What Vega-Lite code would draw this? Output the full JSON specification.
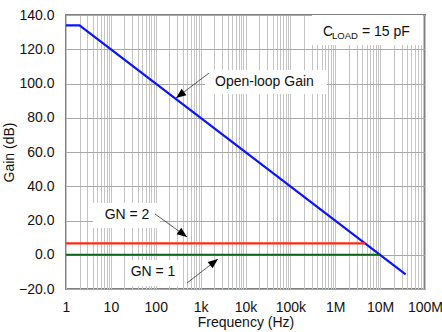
{
  "$schema": "https://vega.github.io/schema/vega-lite/v6.json",
  "width": 359,
  "height": 274,
  "autosize": {"type": "none"},
  "padding": {"left": 66, "top": 15, "right": 17, "bottom": 43},
  "background": "white",
  "config": {
    "font": "Liberation Sans",
    "view": {"stroke": "#808080", "strokeWidth": 2}
  },
  "datasets": {
    "curves": [
      {"series": "Open-loop Gain", "f": 1, "gain": 134},
      {"series": "Open-loop Gain", "f": 2, "gain": 134},
      {"series": "Open-loop Gain", "f": 37000000, "gain": -11.4},
      {"series": "GN = 2", "f": 1, "gain": 6.7},
      {"series": "GN = 2", "f": 4600000, "gain": 6.7},
      {"series": "GN = 1", "f": 1, "gain": 0},
      {"series": "GN = 1", "f": 9600000, "gain": 0}
    ],
    "boxes": [
      {"name": "Open-loop Gain", "f1": 1251, "f2": 655000, "g1": 93.9, "g2": 107.9},
      {"name": "GN = 2", "f1": 4, "f2": 124, "g1": 15.6, "g2": 30.2},
      {"name": "GN = 1", "f1": 20.6, "f2": 384, "g1": -18.2, "g2": -3.1},
      {"name": "CLOAD", "f1": 303000, "f2": 90000000, "g1": 122.5, "g2": 140}
    ],
    "arrows": [
      {"name": "Open-loop Gain", "f1": 1538, "g1": 106.1, "f2": 283, "g2": 91.5},
      {"name": "GN = 2", "f1": 96, "g1": 23.8, "f2": 497, "g2": 10.4},
      {"name": "GN = 1", "f1": 497, "g1": -16.5, "f2": 2438, "g2": -2.5}
    ],
    "labels": [
      {"text": "Open-loop Gain", "f": 2090, "gain": 101.0},
      {"text": "C", "f": 533000, "gain": 130.2},
      {"text": "= 15 pF", "f": 3940000, "gain": 130.2}
    ],
    "clabels": [
      {"text": "GN = 2", "f": 22.9, "gain": 23.2},
      {"text": "GN = 1", "f": 86.9, "gain": -10.1}
    ],
    "sub": [
      {"text": "LOAD", "f": 847000, "gain": 127.7}
    ]
  },
  "layer": [
    {
      "data": {"name": "boxes"},
      "mark": {"type": "rect", "color": "white"},
      "encoding": {
        "x": {"field": "f1", "type": "quantitative", "scale": {"type": "log", "domain": [1, 100000000], "nice": false},
          "title": "Frequency (Hz)",
          "axis": {
            "values": [1,2,3,4,5,6,7,8,9,10,20,30,40,50,60,70,80,90,100,200,300,400,500,600,700,800,900,1000,2000,3000,4000,5000,6000,7000,8000,9000,10000,20000,30000,40000,50000,60000,70000,80000,90000,100000,200000,300000,400000,500000,600000,700000,800000,900000,1000000,2000000,3000000,4000000,5000000,6000000,7000000,8000000,9000000,10000000,20000000,30000000,40000000,50000000,60000000,70000000,80000000,90000000,100000000],
            "tickCount": 200,
            "labelExpr": "datum.value == 1 ? '1' : datum.value == 10 ? '10' : datum.value == 100 ? '100' : datum.value == 1000 ? '1k' : datum.value == 10000 ? '10k' : datum.value == 100000 ? '100k' : datum.value == 1000000 ? '1M' : datum.value == 10000000 ? '10M' : datum.value == 100000000 ? '100M' : ''",
            "labelOverlap": false, "labelBound": false, "labelFlush": false,
            "labelFont": "Liberation Sans", "labelFontSize": 14, "labelColor": "#111",
            "titleFont": "Liberation Sans", "titleFontSize": 14, "titleFontWeight": "normal", "titleColor": "#111",
            "grid": true, "gridColor": "#c4c4c4", "gridWidth": 1,
            "ticks": false, "domain": false, "labelPadding": 11, "titlePadding": 1
          }},
        "x2": {"field": "f2"},
        "y": {"field": "g1", "type": "quantitative", "scale": {"domain": [-20, 140], "nice": false},
          "title": "Gain (dB)",
          "axis": {"values": [-20, 0, 20, 40, 60, 80, 100, 120, 140], "tickCount": 20, "format": ".1f",
            "labelOverlap": false, "labelBound": false, "labelFlush": false,
            "labelFont": "Liberation Sans", "labelFontSize": 14, "labelColor": "#111",
            "titleFont": "Liberation Sans", "titleFontSize": 14, "titleFontWeight": "normal", "titleColor": "#111",
            "grid": true, "gridColor": "#a8a8a8", "gridWidth": 1, "ticks": false, "domain": false, "labelPadding": 12, "titlePadding": 2}},
        "y2": {"field": "g2"}
      }
    },
    {
      "data": {"name": "curves"},
      "mark": {"type": "line", "strokeWidth": 2.2},
      "encoding": {
        "x": {"field": "f", "type": "quantitative"},
        "y": {"field": "gain", "type": "quantitative"},
        "color": {"field": "series", "type": "nominal", "scale": {"domain": ["Open-loop Gain", "GN = 2", "GN = 1"], "range": ["#0a14ff", "#ff2a10", "#10641a"]}, "legend": null}
      }
    },
    {
      "mark": {"type": "rule", "color": "#111", "strokeWidth": 2},
      "encoding": {"y": {"datum": 140, "type": "quantitative"}}
    },
    {
      "data": {"name": "arrows"},
      "mark": {"type": "rule", "color": "#333", "strokeWidth": 0.8},
      "encoding": {
        "x": {"field": "f1", "type": "quantitative"},
        "y": {"field": "g1", "type": "quantitative"},
        "x2": {"field": "f2"},
        "y2": {"field": "g2"}
      }
    },
    {
      "data": {"name": "arrows"},
      "transform": [{"filter": "datum.name == 'Open-loop Gain'"}],
      "mark": {"type": "point", "shape": "M0,0L-2,-0.8L-2,0.8Z", "filled": true, "color": "black", "opacity": 1, "size": 100, "angle": 143},
      "encoding": {"x": {"field": "f2", "type": "quantitative"}, "y": {"field": "g2", "type": "quantitative"}}
    },
    {
      "data": {"name": "arrows"},
      "transform": [{"filter": "datum.name == 'GN = 2'"}],
      "mark": {"type": "point", "shape": "M0,0L-2,-0.8L-2,0.8Z", "filled": true, "color": "black", "opacity": 1, "size": 100, "angle": 36},
      "encoding": {"x": {"field": "f2", "type": "quantitative"}, "y": {"field": "g2", "type": "quantitative"}}
    },
    {
      "data": {"name": "arrows"},
      "transform": [{"filter": "datum.name == 'GN = 1'"}],
      "mark": {"type": "point", "shape": "M0,0L-2,-0.8L-2,0.8Z", "filled": true, "color": "black", "opacity": 1, "size": 100, "angle": 322},
      "encoding": {"x": {"field": "f2", "type": "quantitative"}, "y": {"field": "g2", "type": "quantitative"}}
    },
    {
      "data": {"name": "labels"},
      "mark": {"type": "text", "align": "left", "baseline": "middle", "fontSize": 14, "color": "#111"},
      "encoding": {"x": {"field": "f", "type": "quantitative"}, "y": {"field": "gain", "type": "quantitative"}, "text": {"field": "text"}}
    },
    {
      "data": {"name": "clabels"},
      "mark": {"type": "text", "align": "center", "baseline": "middle", "fontSize": 14, "color": "#111"},
      "encoding": {"x": {"field": "f", "type": "quantitative"}, "y": {"field": "gain", "type": "quantitative"}, "text": {"field": "text"}}
    },
    {
      "data": {"name": "sub"},
      "mark": {"type": "text", "align": "left", "baseline": "middle", "fontSize": 9.5, "color": "#111"},
      "encoding": {"x": {"field": "f", "type": "quantitative"}, "y": {"field": "gain", "type": "quantitative"}, "text": {"field": "text"}}
    }
  ]
}
